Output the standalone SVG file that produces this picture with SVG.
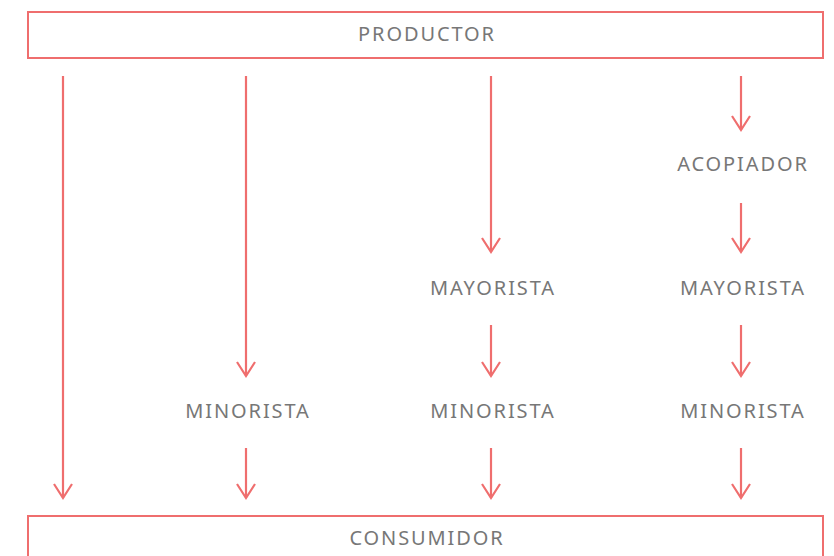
<svg xmlns="http://www.w3.org/2000/svg" width="834" height="556" viewBox="0 0 834 556">
<style>
.box{fill:#fff;stroke:#ef6e6e;stroke-width:2}
.lbl{font-family:"Noto Sans","Open Sans",sans-serif;font-size:20px;fill:#777;letter-spacing:1.9px;text-anchor:middle}
.c{stroke:#ef6e6e;stroke-width:2.2;fill:none;marker-end:url(#ah)}
</style>
<defs>
<marker id="ah" markerUnits="userSpaceOnUse" viewBox="-11 -16 22 18" refX="0" refY="0" markerWidth="22" markerHeight="18" orient="auto-start-reverse" overflow="visible">
<path d="M-9,-14 L0,0 L9,-14" fill="none" stroke="#ef6e6e" stroke-width="2.2" transform="rotate(-90)"/>
</marker>
</defs>
<rect width="834" height="556" fill="#fff"/>
<g id="productor"><rect class="box" x="28" y="12" width="795" height="46"/><text class="lbl" x="427" y="41">PRODUCTOR</text></g>
<g id="consumidor"><rect class="box" x="28" y="516" width="795" height="60"/><text class="lbl" x="427" y="545">CONSUMIDOR</text></g>
<g id="acopiador"><text class="lbl" x="743" y="171">ACOPIADOR</text></g>
<g id="mayorista1"><text class="lbl" x="493" y="295">MAYORISTA</text></g>
<g id="mayorista2"><text class="lbl" x="743" y="295">MAYORISTA</text></g>
<g id="minorista1"><text class="lbl" x="248" y="418">MINORISTA</text></g>
<g id="minorista2"><text class="lbl" x="493" y="418">MINORISTA</text></g>
<g id="minorista3"><text class="lbl" x="743" y="418">MINORISTA</text></g>
<g id="connectors">
<path class="c" d="M63,76 V498"/>
<path class="c" d="M246,76 V376"/>
<path class="c" d="M246,448 V498"/>
<path class="c" d="M491,76 V252"/>
<path class="c" d="M491,325 V376"/>
<path class="c" d="M491,448 V498"/>
<path class="c" d="M741,76 V130"/>
<path class="c" d="M741,203 V252"/>
<path class="c" d="M741,325 V376"/>
<path class="c" d="M741,448 V498"/>
</g>
</svg>
